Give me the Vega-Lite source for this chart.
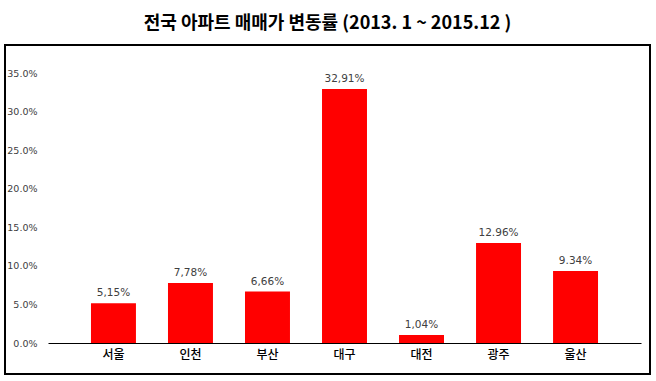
{
  "$schema": "https://vega.github.io/schema/vega-lite/v6.json",
  "width": 645,
  "height": 329,
  "autosize": {"type": "none"},
  "padding": {"left": 5, "top": 45, "right": 6, "bottom": 7},
  "background": "white",
  "title": {
    "text": "전국 아파트 매매가 변동률 (2013. 1 ~ 2015.12 )",
    "font": "Noto Sans CJK KR",
    "fontSize": 18,
    "fontWeight": "bold",
    "color": "black",
    "anchor": "middle",
    "offset": 12
  },
  "config": {
    "view": {"stroke": "black", "strokeWidth": 2}
  },
  "data": {
    "values": [
      {"region": "서울", "value": 5.15, "label": "5,15%"},
      {"region": "인천", "value": 7.78, "label": "7,78%"},
      {"region": "부산", "value": 6.66, "label": "6,66%"},
      {"region": "대구", "value": 32.91, "label": "32,91%"},
      {"region": "대전", "value": 1.04, "label": "1,04%"},
      {"region": "광주", "value": 12.96, "label": "12.96%"},
      {"region": "울산", "value": 9.34, "label": "9.34%"}
    ]
  },
  "encoding": {
    "x": {
      "field": "region",
      "type": "nominal",
      "sort": null,
      "scale": {"range": [43, 636], "paddingInner": 0.416, "paddingOuter": 0.558},
      "axis": {
        "title": null,
        "offset": -31,
        "labelAngle": 0,
        "labelFont": "Noto Sans CJK KR",
        "labelFontSize": 12,
        "labelFontWeight": 500,
        "labelColor": "black",
        "labelPadding": 6,
        "ticks": false,
        "domainColor": "black",
        "domainWidth": 1
      }
    },
    "y": {
      "field": "value",
      "type": "quantitative",
      "scale": {"domain": [0, 35], "range": [298, 28], "nice": false, "zero": true},
      "axis": {
        "title": null,
        "offset": -43,
        "values": [0, 5, 10, 15, 20, 25, 30, 35],
        "labelExpr": "format(datum.value, '.1f') + '%'",
        "labelFont": "DejaVu Sans",
        "labelFontSize": 9.5,
        "labelColor": "#404040",
        "labelPadding": 11,
        "ticks": false,
        "domain": false,
        "grid": false
      }
    }
  },
  "layer": [
    {"mark": {"type": "bar", "color": "#FF0000"}},
    {
      "mark": {"type": "text", "baseline": "bottom", "dy": -5, "font": "DejaVu Sans", "fontSize": 10.5, "color": "#404040"},
      "encoding": {"text": {"field": "label"}}
    }
  ]
}
